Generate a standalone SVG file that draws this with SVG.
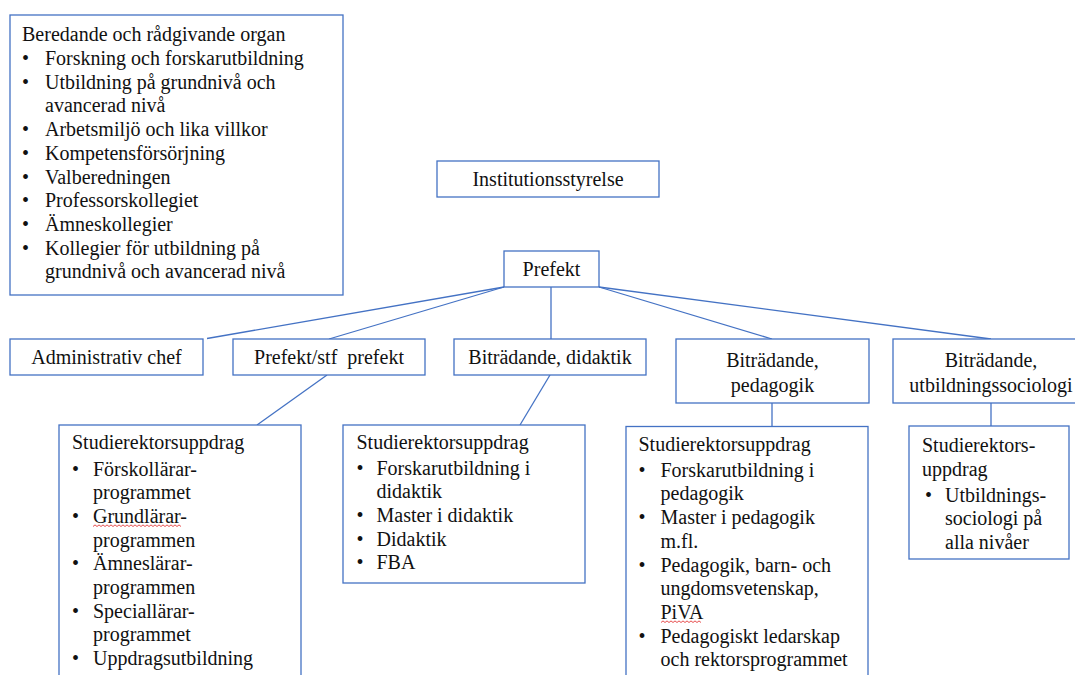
<svg xmlns="http://www.w3.org/2000/svg" width="1075" height="675" viewBox="0 0 1075 675">
<style>
.box{fill:#fff;stroke:#4472C4;stroke-width:1.3}
.con line{stroke:#4472C4;stroke-width:1.3}
text{font-family:"Liberation Serif","Times New Roman",serif;font-size:20px;fill:#111}
.c{text-anchor:middle}
.sq{fill:none;stroke:#e02020;stroke-width:0.8}
</style>
<rect width="1075" height="675" fill="#fff"/>
<g id="connectors" class="con">
<line x1="504" y1="287" x2="207" y2="338.5"/>
<line x1="504" y1="287" x2="329" y2="339"/>
<line x1="551" y1="287" x2="551" y2="339"/>
<line x1="599" y1="287" x2="772" y2="339"/>
<line x1="599" y1="287" x2="991" y2="339"/>
<line x1="327" y1="375" x2="257" y2="425"/>
<line x1="550" y1="375" x2="520" y2="425"/>
<line x1="772" y1="403" x2="772" y2="426.5"/>
<line x1="991" y1="403" x2="991" y2="426"/>
</g>
<g id="beredande">
<rect class="box" x="10" y="15" width="333" height="280"/>
<text x="22" y="40.5">Beredande och rådgivande organ</text>
<text x="22" y="65">•</text><text x="45" y="65">Forskning och forskarutbildning</text>
<text x="22" y="88.7">•</text><text x="45" y="88.7">Utbildning på grundnivå och</text>
<text x="45" y="112.4">avancerad nivå</text>
<text x="22" y="136.1">•</text><text x="45" y="136.1">Arbetsmiljö och lika villkor</text>
<text x="22" y="159.8">•</text><text x="45" y="159.8">Kompetensförsörjning</text>
<text x="22" y="183.5">•</text><text x="45" y="183.5">Valberedningen</text>
<text x="22" y="207.2">•</text><text x="45" y="207.2">Professorskollegiet</text>
<text x="22" y="230.9">•</text><text x="45" y="230.9">Ämneskollegier</text>
<text x="22" y="254.6">•</text><text x="45" y="254.6">Kollegier för utbildning på</text>
<text x="45" y="278.3">grundnivå och avancerad nivå</text>
</g>
<g id="institutionsstyrelse">
<rect class="box" x="437" y="161" width="222" height="36"/>
<text class="c" x="548" y="185.5">Institutionsstyrelse</text>
</g>
<g id="prefekt">
<rect class="box" x="504" y="251" width="95" height="36"/>
<text class="c" x="551.5" y="276">Prefekt</text>
</g>
<g id="admin">
<rect class="box" x="10" y="339" width="193" height="36"/>
<text class="c" x="106.5" y="363.5">Administrativ chef</text>
</g>
<g id="stfprefekt">
<rect class="box" x="233" y="339" width="192" height="36"/>
<text class="c" x="329" y="363.5" style="white-space:pre">Prefekt/stf  prefekt</text>
</g>
<g id="bitr-didaktik">
<rect class="box" x="454" y="339" width="192" height="36"/>
<text class="c" x="550" y="363.5">Biträdande, didaktik</text>
</g>
<g id="bitr-pedagogik">
<rect class="box" x="676" y="339" width="193" height="64"/>
<text class="c" x="772.5" y="367">Biträdande,</text>
<text class="c" x="772.5" y="391.5">pedagogik</text>
</g>
<g id="bitr-utbsoc">
<rect class="box" x="893" y="339" width="200" height="64"/>
<text class="c" x="991" y="367">Biträdande,</text>
<text class="c" x="991" y="391.5">utbildningssociologi</text>
</g>
<g id="sr-program">
<rect class="box" x="59" y="425" width="242" height="270"/>
<text x="72" y="448.5">Studierektorsuppdrag</text>
<text x="72" y="475.5">•</text><text x="93" y="475.5">Förskollärar-</text>
<text x="93" y="499.2">programmet</text>
<text x="72" y="522.9">•</text><text x="93" y="522.9">Grundlärar-</text>
<path class="sq" d="M93,526.5 l2,-1.6 l2,1.6 l2,-1.6 l2,1.6 l2,-1.6 l2,1.6 l2,-1.6 l2,1.6 l2,-1.6 l2,1.6 l2,-1.6 l2,1.6 l2,-1.6 l2,1.6 l2,-1.6 l2,1.6 l2,-1.6 l2,1.6 l2,-1.6 l2,1.6 l2,-1.6 l2,1.6 l2,-1.6 l2,1.6 l2,-1.6 l2,1.6 l2,-1.6 l2,1.6 l2,-1.6 l2,1.6 l2,-1.6 l2,1.6 l2,-1.6 l2,1.6 l2,-1.6 l2,1.6 l2,-1.6 l2,1.6 l2,-1.6 l2,1.6 l2,-1.6 l2,1.6 l2,-1.6 l2,1.6"/>
<text x="93" y="546.6">programmen</text>
<text x="72" y="570.3">•</text><text x="93" y="570.3">Ämneslärar-</text>
<text x="93" y="594">programmen</text>
<text x="72" y="617.7">•</text><text x="93" y="617.7">Speciallärar-</text>
<text x="93" y="641.4">programmet</text>
<text x="72" y="665.1">•</text><text x="93" y="665.1">Uppdragsutbildning</text>
</g>
<g id="sr-didaktik">
<rect class="box" x="343" y="425" width="242" height="158"/>
<text x="356.5" y="448.5">Studierektorsuppdrag</text>
<text x="356.5" y="474.5">•</text><text x="376.5" y="474.5">Forskarutbildning i</text>
<text x="376.5" y="498.2">didaktik</text>
<text x="356.5" y="521.9">•</text><text x="376.5" y="521.9">Master i didaktik</text>
<text x="356.5" y="545.6">•</text><text x="376.5" y="545.6">Didaktik</text>
<text x="356.5" y="569.3">•</text><text x="376.5" y="569.3">FBA</text>
</g>
<g id="sr-pedagogik">
<rect class="box" x="626" y="426.5" width="242" height="270"/>
<text x="638.5" y="450.5">Studierektorsuppdrag</text>
<text x="638.5" y="476.7">•</text><text x="660.5" y="476.7">Forskarutbildning i</text>
<text x="660.5" y="500.4">pedagogik</text>
<text x="638.5" y="524.1">•</text><text x="660.5" y="524.1">Master i pedagogik</text>
<text x="660.5" y="547.8">m.fl.</text>
<text x="638.5" y="571.5">•</text><text x="660.5" y="571.5">Pedagogik, barn- och</text>
<text x="660.5" y="595.2">ungdomsvetenskap,</text>
<text x="660.5" y="618.9">PiVA</text>
<path class="sq" d="M661,622.5 l2,-1.6 l2,1.6 l2,-1.6 l2,1.6 l2,-1.6 l2,1.6 l2,-1.6 l2,1.6 l2,-1.6 l2,1.6 l2,-1.6 l2,1.6 l2,-1.6 l2,1.6 l2,-1.6 l2,1.6 l2,-1.6 l2,1.6 l2,-1.6 l2,1.6"/>
<text x="638.5" y="642.6">•</text><text x="660.5" y="642.6">Pedagogiskt ledarskap</text>
<text x="660.5" y="666.3">och rektorsprogrammet</text>
</g>
<g id="sr-utbsoc">
<rect class="box" x="909" y="426" width="160" height="133"/>
<text x="922" y="452">Studierektors-</text>
<text x="922" y="476">uppdrag</text>
<text x="925" y="501.5">•</text><text x="945" y="501.5">Utbildnings-</text>
<text x="945" y="525.2">sociologi på</text>
<text x="945" y="548.9">alla nivåer</text>
</g>
</svg>
